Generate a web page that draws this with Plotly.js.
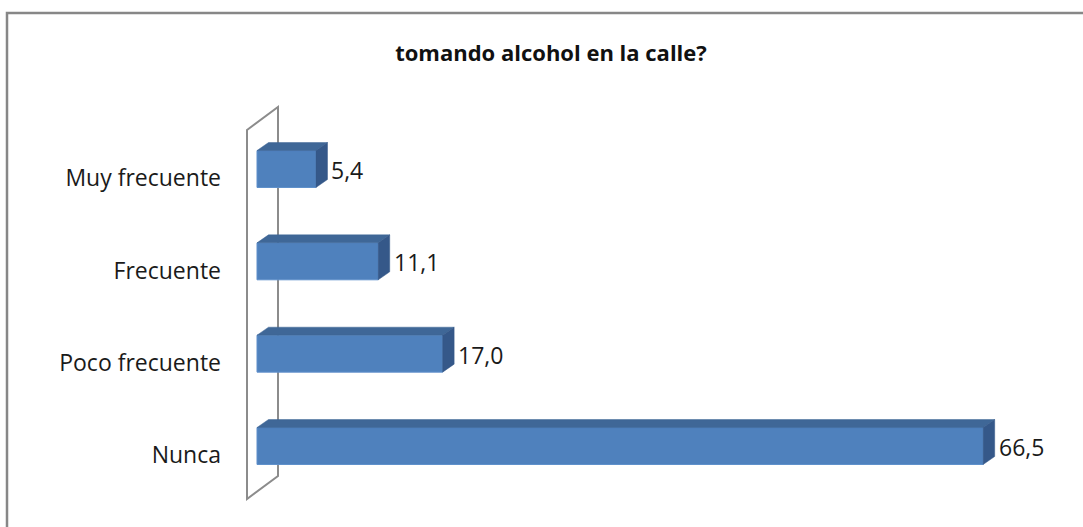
<!DOCTYPE html>
<html>
<head>
<meta charset="utf-8">
<script src="https://cdn.plot.ly/plotly-3.0.1.min.js"></script>
<style>
html,body{margin:0;padding:0;background:#fff;}
#chart{width:1083px;height:527px;}
</style>
</head>
<body>
<div id="chart"></div>
<script>
// ---- data ----
const categories = ['Nunca', 'Poco frecuente', 'Frecuente', 'Muy frecuente'];
const values = [66.5, 17.0, 11.1, 5.4];
const valueLabels = ['66,5', '17,0', '11,1', '5,4'];
const chartTitle = 'tomando alcohol en la calle?';

// ---- geometry (pixels) ----
const W = 1083, H = 527;
const plotL = 228, plotR = 1078, plotT = 95, plotB = 507;
const zeroPx = 257, pxPerUnit = 10.92;        // x scale
const firstCatPx = 446, pxPerCat = 92.33;      // y scale (index 0 at bottom)
const xRange = [(plotL - zeroPx) / pxPerUnit, (plotR - zeroPx) / pxPerUnit];
const n = categories.length;
const yRange = [-(plotB - firstCatPx) / pxPerCat, (firstCatPx - plotT) / pxPerCat];
const idx = categories.map((c, i) => i);

const barW = 0.4;
const dX = 11.5 / pxPerUnit;   // depth offset in x units
const dY = 8 / pxPerCat;       // depth offset in y units

const frontColor = '#4F81BD';
const topColor = '#3F6797';
const sideColor = '#355889';

const shapes = [];
// back wall (left plane)
const wallFrontX = (247 - zeroPx) / pxPerUnit;
const wallBackX = (278 - zeroPx) / pxPerUnit;
const wallTop = (n - 1) + (firstCatPx - (n - 1) * pxPerCat - 130) / pxPerCat;
const wallBot = -(499 - firstCatPx) / pxPerCat;
const wallDY = 23 / pxPerCat;
shapes.push({
  type: 'path', xref: 'x', yref: 'y', layer: 'below',
  path: `M ${wallFrontX},${wallTop} L ${wallBackX},${wallTop + wallDY} L ${wallBackX},${wallBot + wallDY} L ${wallFrontX},${wallBot} Z`,
  line: {color: '#8C8C8C', width: 2}, fillcolor: 'rgba(255,255,255,0)'
});
// 3D faces
values.forEach((v, i) => {
  const t = i + barW / 2, b = i - barW / 2;
  shapes.push({
    type: 'path', xref: 'x', yref: 'y', layer: 'above',
    path: `M 0,${t} L ${v},${t} L ${v + dX},${t + dY} L ${dX},${t + dY} Z`,
    fillcolor: topColor, line: {color: topColor, width: 0.5}
  });
  shapes.push({
    type: 'path', xref: 'x', yref: 'y', layer: 'above',
    path: `M ${v},${b} L ${v},${t} L ${v + dX},${t + dY} L ${v + dX},${b + dY} Z`,
    fillcolor: sideColor, line: {color: sideColor, width: 0.5}
  });
});
// outer chart border (top and left edges visible)
const px2paperX = px => (px - plotL) / (plotR - plotL);
const px2paperY = py => (plotB - py) / (plotB - plotT);
shapes.push({
  type: 'path', xref: 'paper', yref: 'paper', layer: 'above',
  path: `M ${px2paperX(7)},${px2paperY(H + 20)} L ${px2paperX(7)},${px2paperY(13)} L ${px2paperX(W + 20)},${px2paperY(13)}`,
  line: {color: '#878787', width: 2.5}
});

const annotations = values.map((v, i) => ({
  x: v + dX, y: i, xref: 'x', yref: 'y',
  text: valueLabels[i], showarrow: false,
  xanchor: 'left', yanchor: 'middle', xshift: 2, yshift: -1,
  font: {family: 'Open Sans', size: 23, color: '#1a1a1a'}
}));

const trace = {
  type: 'bar', orientation: 'h',
  x: values, y: idx, width: barW,
  marker: {color: frontColor, line: {color: '#5E8FCB', width: 1}},
  hoverinfo: 'skip'
};

const layout = {
  width: W, height: H,
  margin: {l: plotL, r: W - plotR, t: plotT, b: H - plotB, pad: 0},
  paper_bgcolor: '#fff', plot_bgcolor: 'rgba(0,0,0,0)',
  showlegend: false,
  title: {
    text: '<b>' + chartTitle + '</b>',
    xref: 'container', yref: 'container',
    x: 551 / W, y: 1 - 53 / H, xanchor: 'center', yanchor: 'middle',
    font: {family: 'Open Sans', size: 22, color: '#111'}
  },
  xaxis: {range: xRange, visible: false, fixedrange: true},
  yaxis: {
    range: yRange, fixedrange: true,
    tickvals: idx.map(i => i - 0.1), ticktext: categories,
    ticks: '', showgrid: false, zeroline: false, showline: false,
    ticklabelstandoff: 6,
    tickfont: {family: 'Open Sans', size: 23, color: '#1a1a1a'}
  },
  shapes: shapes,
  annotations: annotations
};

Plotly.newPlot('chart', [trace], layout, {displayModeBar: false, staticPlot: true});
</script>
</body>
</html>
